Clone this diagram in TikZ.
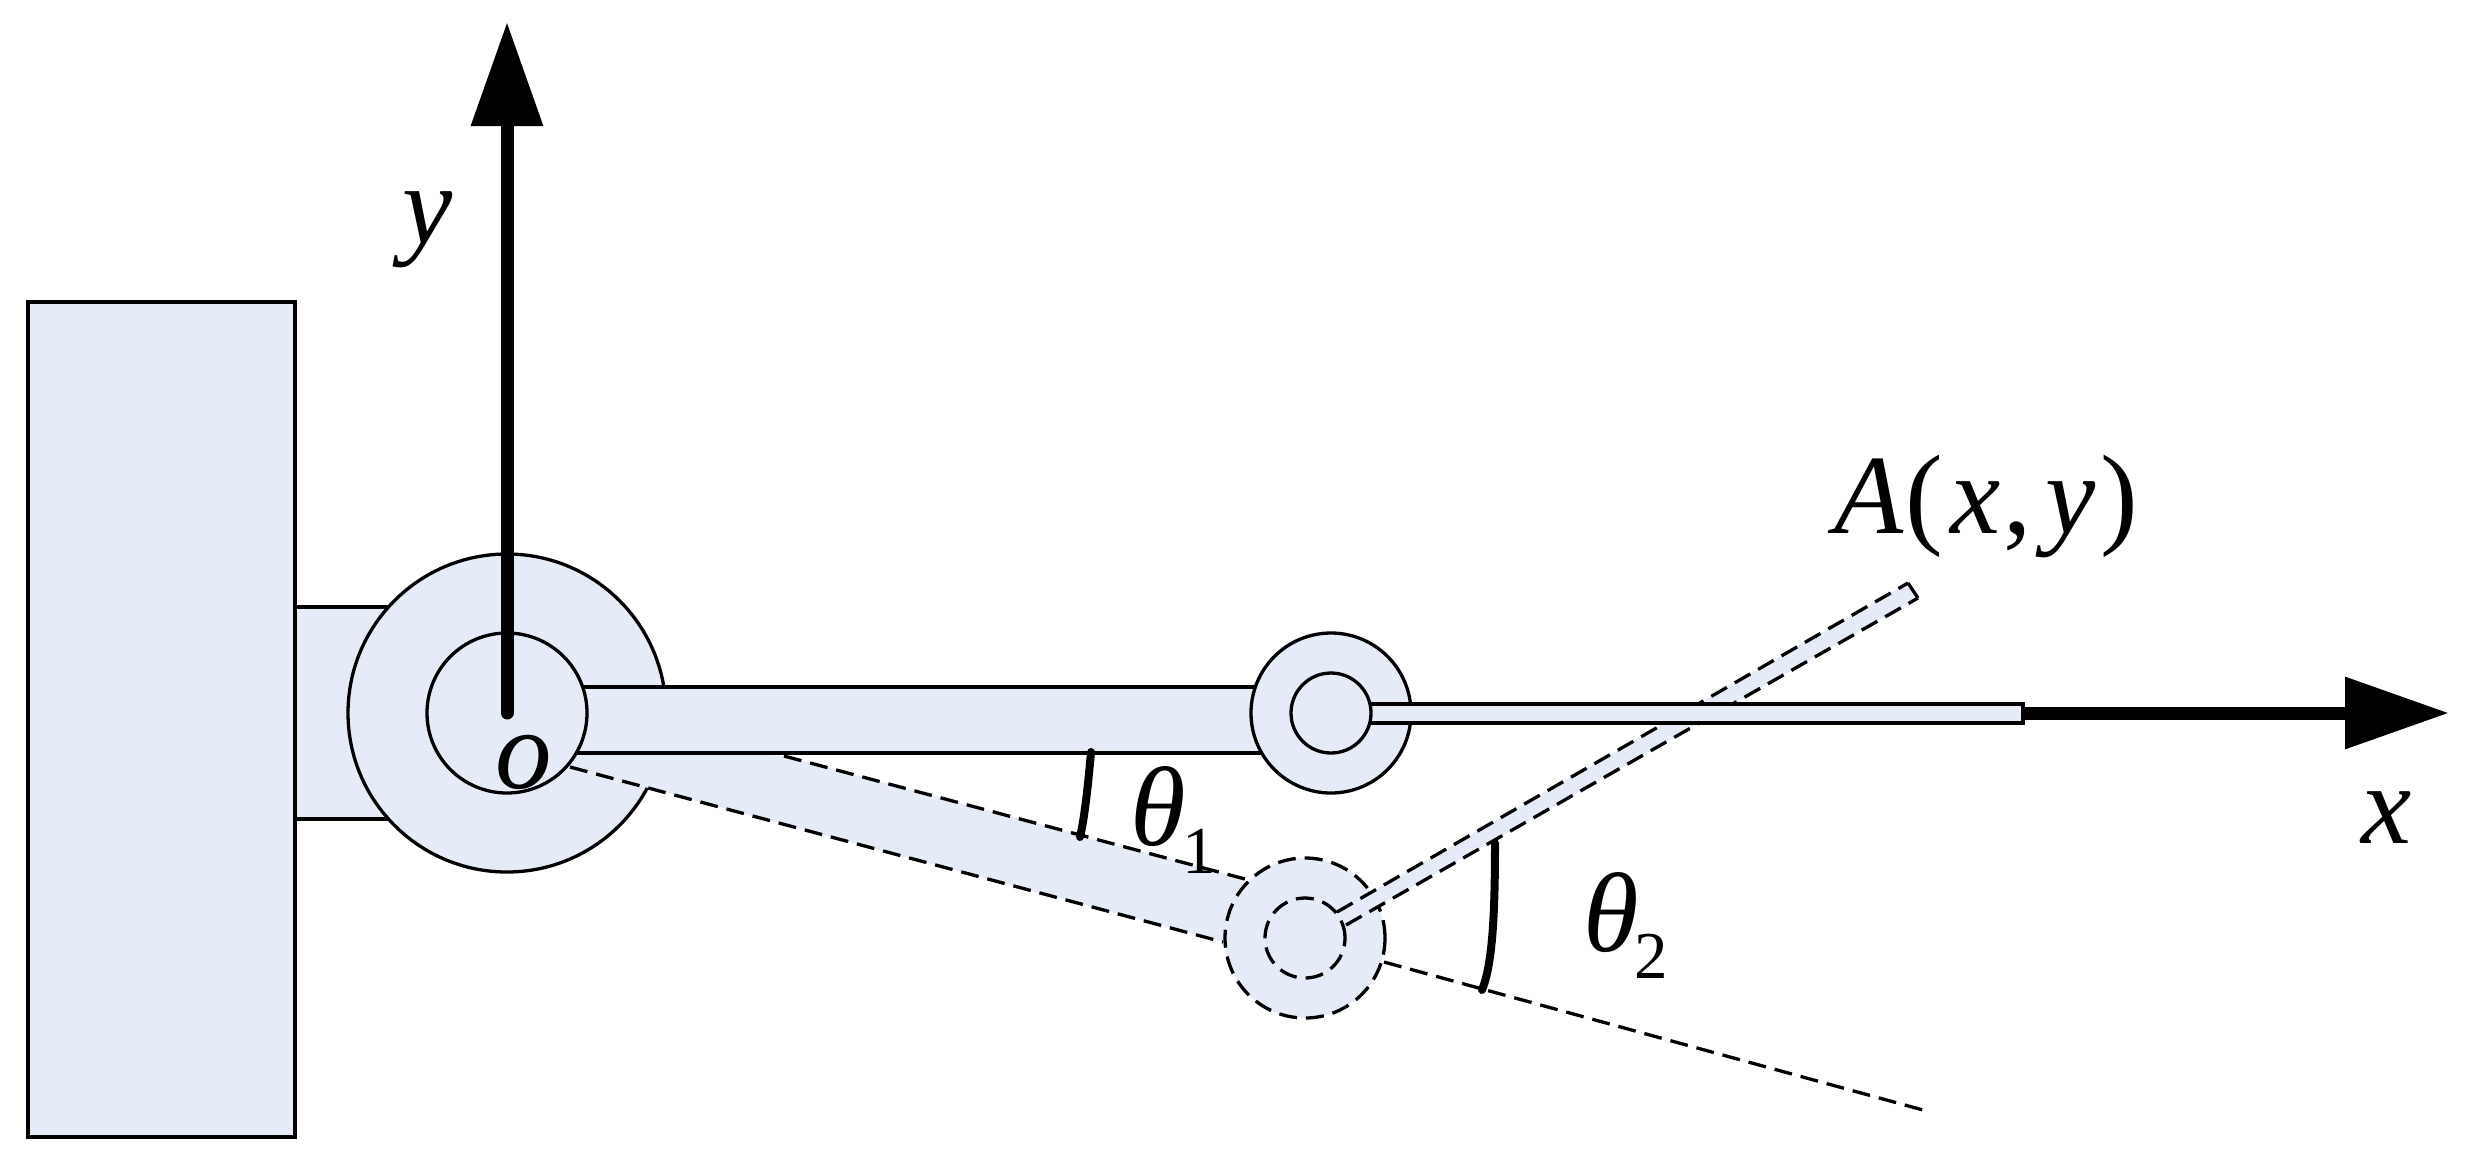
\documentclass[tikz,border=0pt]{standalone}
\usepackage{fontspec}
\setmainfont{Liberation Serif}
\usetikzlibrary{arrows.meta}
\definecolor{linkfill}{HTML}{E6ECF7}
\tikzset{
  x=1pt,y=-1pt,
  part/.style={draw=black,line width=3.3pt,fill=linkfill},
  outl/.style={draw=black,line width=3.3pt},
  dash1/.style={draw=black,line width=3.3pt,dash pattern=on 18pt off 9pt},
  joint/.style={circle,inner sep=0pt,outer sep=0pt,part},
  ghost/.style={circle,inner sep=0pt,outer sep=0pt,fill=linkfill,draw=black,line width=3.3pt,dash pattern=on 18pt off 9pt},
  axisline/.style={draw=black,line width=13pt,-{Triangle[length=104pt,width=69pt]}},
  anglearc/.style={draw=black,line width=8pt,line cap=round},
  lbl/.style={anchor=base west,inner sep=0pt,outer sep=0pt,font=\fontsize{113}{113}\selectfont},
  sublbl/.style={anchor=base west,inner sep=0pt,outer sep=0pt,font=\fontsize{67}{67}\selectfont}
}
\begin{document}
\begin{tikzpicture}
\useasboundingbox (0,0) rectangle (2476,1163);
\fill[white] (0,0) rectangle (2476,1163);
% key points
\coordinate (O) at (507,713);
\coordinate (E) at (1331,713);
\coordinate (R) at (1305,938);
\coordinate (ytip) at (507,22);
\coordinate (xtip) at (2449,713);
\coordinate (extA) at (1384,962);
\coordinate (extB) at (1923,1110);
\coordinate (t1a) at (784,756);
\coordinate (t1b) at (1245,879);
\coordinate (b1a) at (570,767);
\coordinate (b1b) at (1223,942);
\coordinate (u2a) at (1337,912);
\coordinate (u2b) at (1908,583);
\coordinate (l2a) at (1346,925);
\coordinate (l2b) at (1918,598);
% neck and base block
\fill[linkfill] (295,607) rectangle (400,819);
\draw[outl] (295,607) -- (400,607) (295,819) -- (400,819);
\draw[part] (28,302) rectangle (295,1137);
% large hub
\node[joint,minimum size=318pt] (hub) at (O) {};
% first link, rotated position
\fill[linkfill] (b1a) -- (b1b) -- (t1b) -- (t1a) -- (570,745) -- cycle;
\draw[dash1] (b1a) -- (b1b);
\draw[dash1] (t1a) -- (t1b);
% first link, horizontal position
\fill[linkfill] (560,687) rectangle (1270,753);
\draw[outl] (560,687) -- (1270,687) (560,753) -- (1270,753);
\node[joint,minimum size=160pt] (hubin) at (O) {};
% rotated elbow
\draw[dash1] (extA) -- (extB);
\node[ghost,minimum size=160pt] (rot) at (R) {};
\node[ghost,minimum size=80pt] (rotin) at (R) {};
% second link, rotated position
\fill[linkfill] (u2a) -- (u2b) -- (l2b) -- (l2a) -- cycle;
\draw[dash1] (u2a) -- (u2b);
\draw[dash1] (l2a) -- (l2b);
\draw[dash1] (u2b) -- (l2b);
% x axis, elbow, second link
\draw[axisline] (E) -- (xtip);
\node[joint,minimum size=160pt] (elbow) at (E) {};
\draw[part] (1345,704) rectangle (2023,723);
\node[joint,minimum size=80pt] (elbowin) at (E) {};
% y axis
\draw[axisline,line cap=round] (O) -- (ytip);
% angle marks
\draw[anglearc] (1091,752) .. controls (1088,785) and (1085,815) .. (1080,837);
\draw[anglearc] (1495,843) .. controls (1495,920) and (1492,965) .. (1482,990);
% labels
\node[lbl] (ly) at (402,243) {\itshape y};
\node[lbl] (lo) at (495,788) {\itshape o};
\node[lbl] (lx) at (2361,843) {\itshape x};
\node[lbl] (lA) at (1834,533) {\itshape A\kern 2pt\upshape(\kern 8pt\itshape x\kern 3pt\upshape,\kern 13pt\itshape y\kern 5pt\upshape)};
\node[lbl] (lt1) at (1130,845) {\itshape θ};
\node[sublbl] (ls1) at (1182,873) {1};
\node[lbl] (lt2) at (1583,951) {\itshape θ};
\node[sublbl] (ls2) at (1634,978) {2};
\end{tikzpicture}
\end{document}
